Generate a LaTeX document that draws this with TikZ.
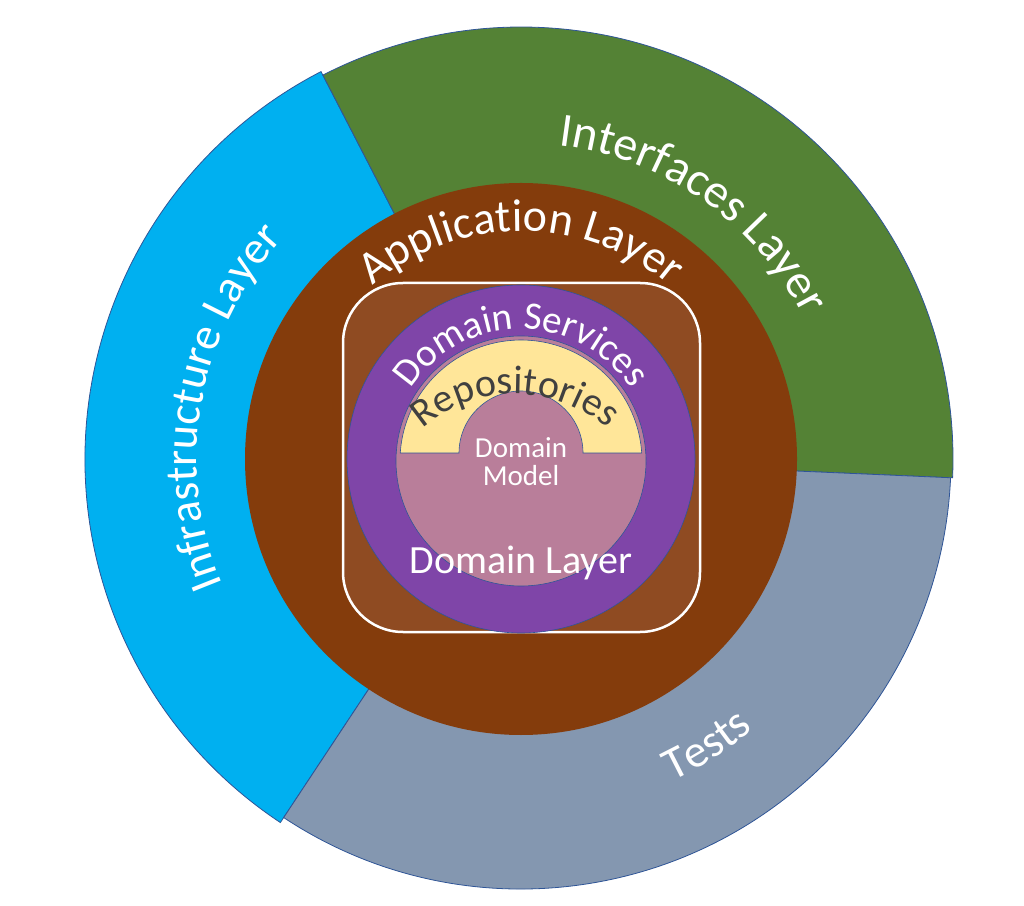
\documentclass[tikz,border=0pt]{standalone}
\usepackage{fontspec}
\setmainfont{Carlito}
\usetikzlibrary{decorations.text,calc}
\newcommand\tfz[1]{\fontsize{#1}{#1}\selectfont}
\definecolor{cInfra}{HTML}{00B0F0}
\definecolor{cIface}{HTML}{548235}
\definecolor{cTests}{HTML}{8497B0}
\definecolor{cApp}{HTML}{843C0C}
\definecolor{cSq}{HTML}{8F4B22}
\definecolor{cDom}{HTML}{7F45A8}
\definecolor{cMod}{HTML}{B97E9A}
\definecolor{cRep}{HTML}{FFE699}
\definecolor{cEdge}{HTML}{2F5597}
\tikzset{
  seg/.style={draw=cEdge,line width=0.8pt},
  curv/.style n args={3}{decorate,decoration={text along path,text align=center,
     text color=#3,text={|\tfz{#1}|#2}}},
}
\begin{document}
\begin{tikzpicture}[x=1pt,y=1pt]
\useasboundingbox (0,0) rectangle (1024,905);
\begin{scope}[shift={(521,446)}]
% outer ring segments
\path[seg,fill=cInfra] (0,0) -- (117.3:436) arc[start angle=117.3,end angle=236.5,radius=436] -- cycle;
\path[seg,fill=cIface] (0,0) -- (-2.5:432) arc[start angle=-2.5,end angle=117.3,radius=432] -- cycle;
\path[seg,fill=cTests] (0,0) -- (236.5:430) arc[start angle=236.5,end angle=357.5,radius=430] -- cycle;
% application
\fill[cApp] (0,0) circle[radius=276];
\draw[white,line width=2.5pt,fill=cSq,rounded corners=60pt] (-178,-173) rectangle (179,176);
\draw[cEdge,fill=cDom,line width=0.6pt] (0,0) circle[radius=174];
\draw[cEdge,fill=cMod,line width=0.6pt] (0,-2) circle[radius=125];
\draw[cEdge,fill=cRep,line width=0.6pt] (120.7,6) arc[start angle=3.8,end angle=176.2,radius=121] -- (-62,6) arc[start angle=180,end angle=0,radius=62] -- cycle;
% curved labels
\path[curv={48}{Interfaces Layer}{white}] (118:316) arc[start angle=118,end angle=-8,radius=316];
\path[curv={46}{Infrastructure Layer}{white}] (235:324) arc[start angle=235,end angle=105,radius=324];
\path[curv={46}{Tests}{white}] (-95:356) arc[start angle=-95,end angle=-19,radius=356];
\path[curv={46}{Application Layer}{white}] (160:228) arc[start angle=160,end angle=20,radius=228];
\path[curv={39}{Domain Services}{white}] (165:130) arc[start angle=165,end angle=15,radius=130];
\path[curv={40}{Repositories}{black!75}] ($(-6,-75)+(140:140)$) arc[start angle=140,end angle=40,radius=140];
\node[white,font=\tfz{29},align=center] (dm) at (0,-3) {Domain\\[-1pt]Model};
\node[white,font=\tfz{40}] (dl) at (0,-104) {Domain Layer};
\end{scope}
\end{tikzpicture}
\end{document}
